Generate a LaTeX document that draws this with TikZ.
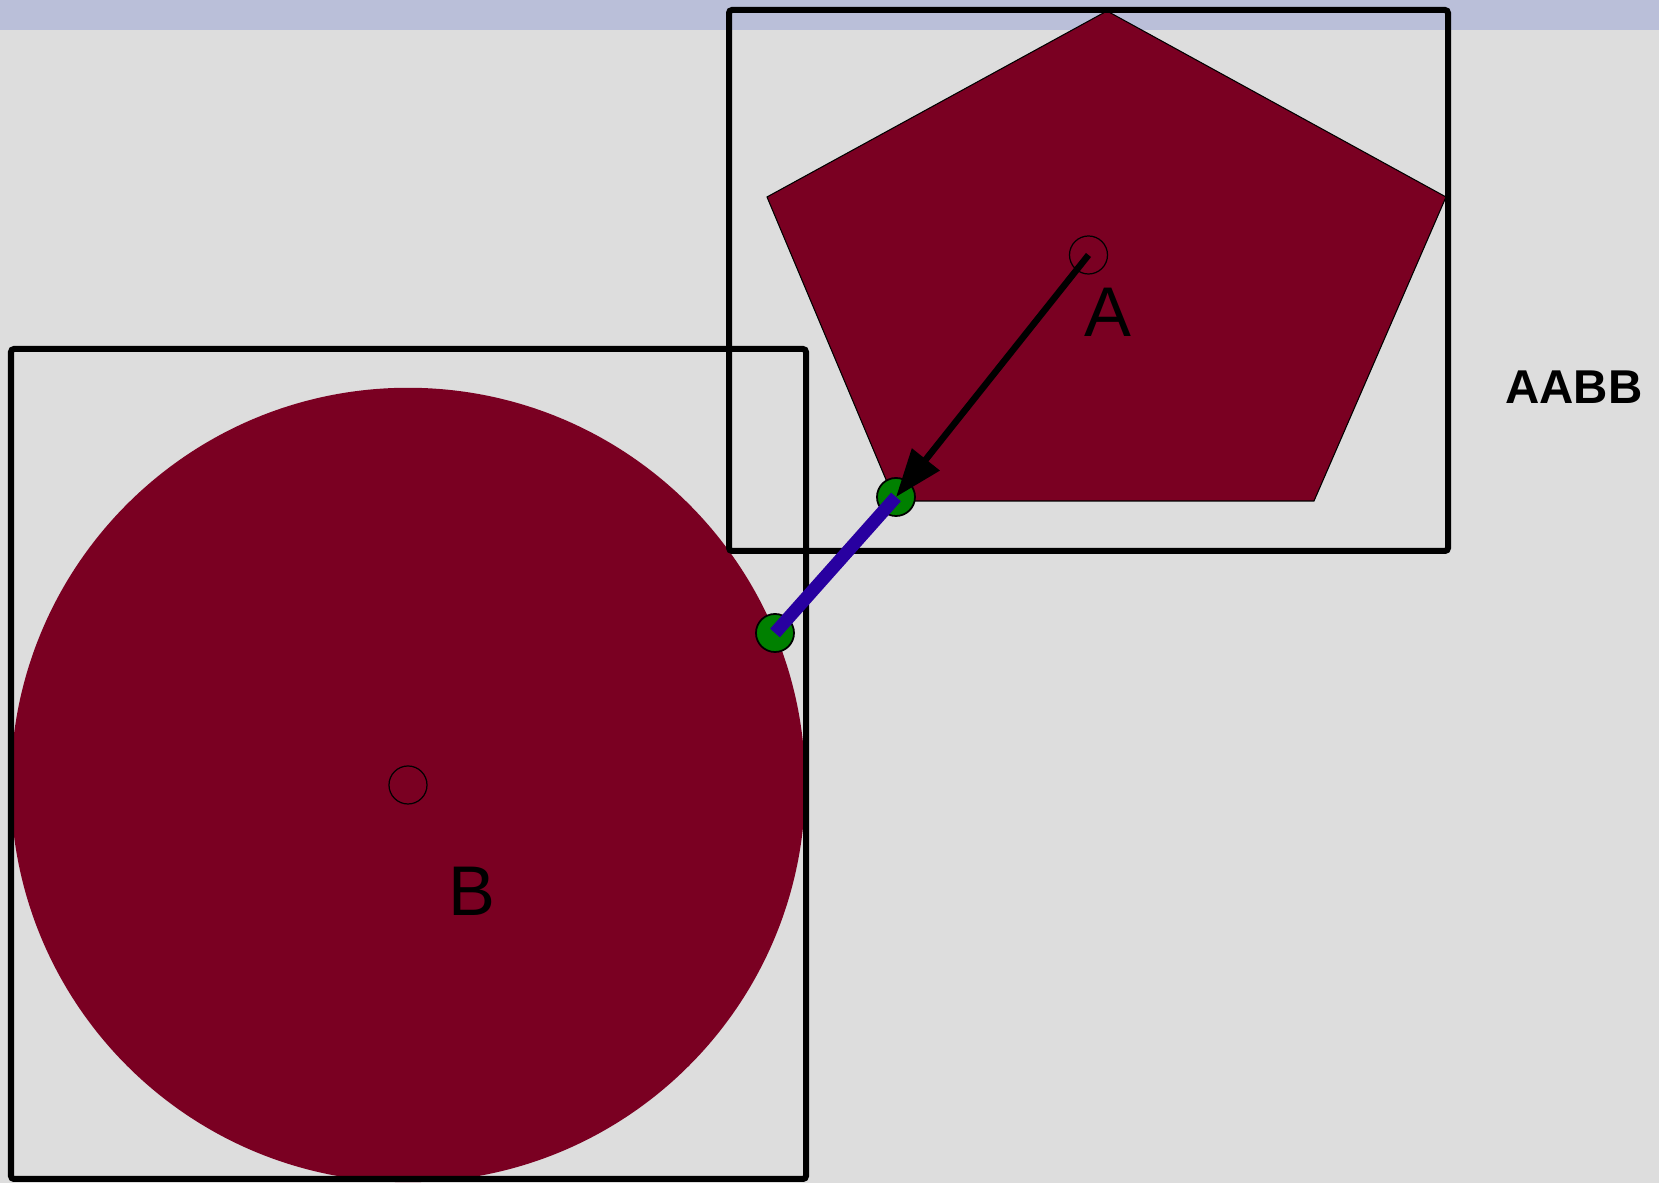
\documentclass[tikz,border=0pt]{standalone}
\usepackage{fontspec}
\setmainfont{Liberation Sans}
\usepackage{tikz}
\usetikzlibrary{arrows.meta}
\definecolor{bgpanel}{RGB}{221,221,221}
\definecolor{topband}{RGB}{186,191,217}
\definecolor{bodyred}{RGB}{122,0,34}
\definecolor{hitgreen}{RGB}{0,128,0}
\definecolor{depthblue}{RGB}{40,0,160}

\begin{document}
\begin{tikzpicture}[x=0.01cm, y=-0.01cm,
  aabbbox/.style={draw=black, line width=0.06cm, rounded corners=0.03cm},
  centremark/.style={circle, draw=black, line width=0.35pt, minimum size=0.38cm, inner sep=0pt},
  contactdot/.style={circle, draw=black, fill=hitgreen, line width=0.5pt, minimum size=0.38cm, inner sep=0pt},
  lbl/.style={font=\fontsize{20}{20}\selectfont, inner sep=0pt}]
% canvas
\useasboundingbox (0,0) rectangle (1659,1183);
\fill[bgpanel] (0,0) rectangle (1659,1183);
\fill[topband] (0,0) rectangle (1659,30);

% bodies
\fill[bodyred, draw=black, line width=0.3pt]
  (1107,11) -- (1446,197) -- (1314,501) -- (895,501) -- (767,197) -- cycle;
\fill[bodyred] (408,785) circle[radius=3.97cm];

% bounding boxes
\draw[aabbbox] (729,10) rectangle (1448,551);
\draw[aabbbox] (11,349) rectangle (806,1179);

% centres
\node[centremark] (pc) at (1088.5,255) {};
\node[centremark] (cc) at (408,785) {};

% contact points
\node[contactdot] (pa) at (896,497) {};
\node[contactdot] (pb) at (775,633) {};

% penetration + direction
\draw[depthblue, line width=0.13cm] (pb.center) -- (pa.center);
\draw[black, line width=0.065cm, -{Triangle[length=0.48cm, width=0.34cm]}]
  (pc.center) -- (pa.center);

% labels
\node[lbl] (la) at (1108,312) {A};
\node[lbl] (lb) at (472,891) {B};
\node[font=\fontsize{13.5}{13.5}\selectfont\bfseries, inner sep=0pt] (aabb) at (1574,387) {AABB};
\end{tikzpicture}
\end{document}
